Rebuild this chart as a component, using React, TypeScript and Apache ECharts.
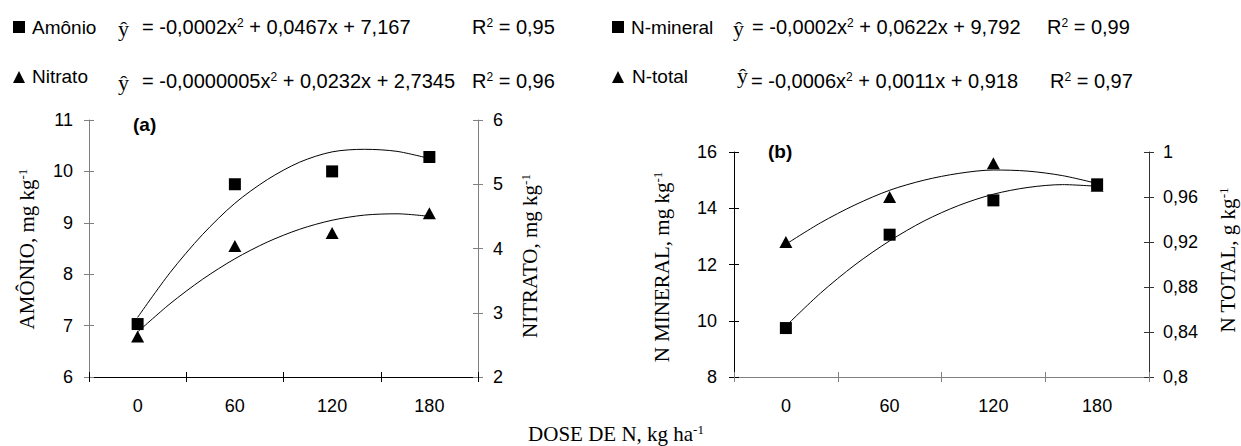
import React, { useEffect, useRef } from 'react';
import * as echarts from 'echarts';

// ---------- data ----------
const doses = ['0', '60', '120', '180'];
const amonio = [7.03, 9.75, 10.0, 10.28];
const nitrato = [2.63, 4.04, 4.24, 4.55];
const nMineral = [9.74, 13.06, 14.28, 14.85];
const nTotal = [0.92, 0.96, 0.99, 0.97];

// fitted curves
const curveDoses = [0, 20, 40, 60, 80, 100, 120, 140, 160, 180];
const amonioCurve = [7.16, 8.03, 8.77, 9.38, 9.84, 10.18, 10.38, 10.43, 10.39, 10.25];
const nitratoCurve = [2.7, 3.14, 3.52, 3.84, 4.1, 4.3, 4.44, 4.52, 4.54, 4.5];
const nMineralCurve = [9.81, 10.98, 11.99, 12.84, 13.55, 14.1, 14.5, 14.74, 14.84, 14.78];
const nTotalCurve = [0.918, 0.937, 0.953, 0.966, 0.975, 0.981, 0.984, 0.983, 0.979, 0.972];

const SANS = "'Liberation Sans', Arial, sans-serif";
const SERIF = "'Liberation Serif', 'Times New Roman', serif";

const pairs = (ys: number[]) => curveDoses.map((d, i) => [d, ys[i]]);

const catAxis = (gridIndex: number, color: string) => ({
  type: 'category', gridIndex, data: doses, boundaryGap: true, position: 'bottom',
  axisLine: { show: true, onZero: false, lineStyle: { color, width: 1 } },
  axisTick: { show: true, length: 5, inside: false, interval: 0, lineStyle: { color } },
  axisLabel: { color: '#000', fontFamily: SANS, fontSize: 18, margin: 20, interval: 0 },
  splitLine: { show: false },
});
const catTickAxis = (gridIndex: number, color: string) => ({
  type: 'category', gridIndex, data: doses, boundaryGap: true, position: 'bottom',
  axisLine: { show: false, onZero: false },
  axisTick: { show: true, length: 5, inside: true, interval: 0, lineStyle: { color } },
  axisLabel: { show: false }, splitLine: { show: false },
});
const valX = (gridIndex: number) => ({
  type: 'value', gridIndex, min: -30, max: 210, show: false,
  axisLine: { onZero: false }, splitLine: { show: false },
});
const valY = (gridIndex: number, position: string, min: number, max: number, interval: number,
  color: string, margin: number, fmt?: (v: number) => string) => ({
  type: 'value', gridIndex, position, min, max, interval,
  axisLine: { show: true, onZero: false, lineStyle: { color, width: 1 } },
  axisTick: { show: true, length: 5, inside: false, lineStyle: { color } },
  axisLabel: { color: '#000', fontFamily: SANS, fontSize: 18, margin, formatter: fmt },
  splitLine: { show: false },
});
const valYTicks = (gridIndex: number, position: string, min: number, max: number, interval: number, color: string) => ({
  type: 'value', gridIndex, position, min, max, interval,
  axisLine: { show: false, onZero: false },
  axisTick: { show: true, length: 5, inside: true, lineStyle: { color } },
  axisLabel: { show: false }, splitLine: { show: false },
});

const commaFmt = (v: number) => String(+v.toFixed(2)).replace('.', ',');

const legRich = {
  t: { fontFamily: SANS, fontSize: 19, fill: '#000', lineHeight: 20 },
  e: { fontFamily: SANS, fontSize: 20, fill: '#000', lineHeight: 21 },
  s: { fontFamily: SANS, fontSize: 12, fill: '#000', lineHeight: 12, verticalAlign: 'top' },
};
const titleRich = {
  a: { fontFamily: SERIF, fontSize: 21, fill: '#000', lineHeight: 22 },
  s: { fontFamily: SERIF, fontSize: 13, fill: '#000', lineHeight: 13, verticalAlign: 'top' },
};

const txt = (x: number, y: number, text: string, rich: any, extra: any = {}) => ({
  type: 'text', x, y, ...extra,
  style: { text, rich, fill: '#000', align: 'left', verticalAlign: 'middle', ...(extra.style || {}) },
});
const hat = (x: number, y: number) => ({
  type: 'text', x, y,
  style: { text: 'ŷ', fontFamily: SERIF, fontSize: 22, fill: '#000', align: 'left', verticalAlign: 'middle' },
});

export default function App() {
  const ref = useRef<HTMLDivElement>(null);
  useEffect(() => {
    if (!ref.current) return;
    const chart = echarts.init(ref.current, null, { renderer: 'svg' });
    const lineS = (xi: number, yi: number, ys: number[]) => ({
      type: 'line', xAxisIndex: xi, yAxisIndex: yi, data: pairs(ys), smooth: 0.3,
      symbol: 'none', showSymbol: false, silent: true, z: 2,
      lineStyle: { color: '#000', width: 1 },
    });
    const scat = (xi: number, yi: number, ys: number[], sym: string, size: any, z: number) => ({
      type: 'scatter', xAxisIndex: xi, yAxisIndex: yi, data: ys, symbol: sym, symbolSize: size,
      itemStyle: { color: '#000', opacity: 1 }, z, silent: true,
    });
    const option: any = {
      animation: false,
      backgroundColor: '#fff',
      grid: [
        { left: 89, top: 120, width: 389, height: 257, containLabel: false, outerBoundsMode: 'none' },
        { left: 734, top: 152, width: 415, height: 225, containLabel: false, outerBoundsMode: 'none' },
      ],
      xAxis: [
        catAxis(0, '#000'), catTickAxis(0, '#000'), valX(0),
        catAxis(1, '#808080'), catTickAxis(1, '#808080'), valX(1),
      ],
      yAxis: [
        valY(0, 'left', 6, 11, 1, '#808080', 16),
        valY(0, 'right', 2, 6, 1, '#808080', 15),
        valYTicks(0, 'left', 6, 11, 1, '#808080'),
        valYTicks(0, 'right', 2, 6, 1, '#808080'),
        valY(1, 'left', 8, 16, 2, '#000', 17),
        valY(1, 'right', 0.8, 1, 0.04, '#333', 14, commaFmt),
        valYTicks(1, 'left', 8, 16, 2, '#000'),
        valYTicks(1, 'right', 0.8, 1, 0.04, '#333'),
      ],
      series: [
        lineS(2, 0, amonioCurve),
        lineS(2, 1, nitratoCurve),
        scat(0, 0, amonio, 'rect', 12, 4),
        scat(0, 1, nitrato, 'triangle', [13, 12], 3),
        lineS(5, 4, nMineralCurve),
        lineS(5, 5, nTotalCurve),
        scat(3, 5, nTotal, 'triangle', [13, 12], 3),
        scat(3, 4, nMineral, 'rect', 12, 4),
      ],
      graphic: [
        // legend left
        { type: 'rect', shape: { x: 13, y: 21, width: 12, height: 12 }, style: { fill: '#000' } },
        txt(32, 27, '{t|Amônio}', legRich),
        hat(118, 28),
        txt(142, 27, '{e|= -0,0002x}{s|2}{e| + 0,0467x + 7,167}', legRich),
        txt(472, 27, '{e|R}{s|2}{e| = 0,95}', legRich),
        { type: 'polygon', shape: { points: [[13, 83], [19, 71], [25, 83]] }, style: { fill: '#000' } },
        txt(32, 76, '{t|Nitrato}', legRich),
        hat(118, 82),
        txt(142, 81, '{e|= -0,0000005x}{s|2}{e| + 0,0232x + 2,7345}', legRich),
        txt(472, 81, '{e|R}{s|2}{e| = 0,96}', legRich),
        // legend right
        { type: 'rect', shape: { x: 612, y: 21, width: 12, height: 12 }, style: { fill: '#000' } },
        txt(631, 27, '{t|N-mineral}', legRich),
        hat(733, 28),
        txt(752, 27, '{e|= -0,0002x}{s|2}{e| + 0,0622x + 9,792}', legRich),
        txt(1047, 27, '{e|R}{s|2}{e| = 0,99}', legRich),
        { type: 'polygon', shape: { points: [[612, 83], [618, 71], [624, 83]] }, style: { fill: '#000' } },
        txt(632, 76, '{t|N-total}', legRich),
        hat(737, 75),
        txt(751, 81, '{e|= -0,0006x}{s|2}{e| + 0,0011x + 0,918}', legRich),
        txt(1050, 81, '{e|R}{s|2}{e| = 0,97}', legRich),
        // panel labels
        { type: 'text', x: 133, y: 124, style: { text: '(a)', fontFamily: SANS, fontWeight: 'bold', fontSize: 19, fill: '#000', verticalAlign: 'middle' } },
        { type: 'text', x: 768, y: 151, style: { text: '(b)', fontFamily: SANS, fontWeight: 'bold', fontSize: 19, fill: '#000', verticalAlign: 'middle' } },
        // axis titles
        txt(27, 249, '{a|AMÔNIO, mg kg}{s|-1}', titleRich, { rotation: Math.PI / 2, style: { align: 'center' } }),
        txt(530, 256, '{a|NITRATO, mg kg}{s|-1}', titleRich, { rotation: Math.PI / 2, style: { align: 'center' } }),
        txt(662, 267, '{a|N MINERAL, mg kg}{s|-1}', titleRich, { rotation: Math.PI / 2, style: { align: 'center' } }),
        txt(1228, 260, '{a|N TOTAL, g kg}{s|-1}', titleRich, { rotation: Math.PI / 2, style: { align: 'center' } }),
        txt(616, 434, '{a|DOSE DE N, kg ha}{s|-1}', titleRich, { style: { align: 'center' } }),
      ],
    };
    chart.setOption(option);
    return () => chart.dispose();
  }, []);
  return <div ref={ref} style={{ position: 'absolute', left: 0, top: 0, width: 1241, height: 446 }} />;
}
